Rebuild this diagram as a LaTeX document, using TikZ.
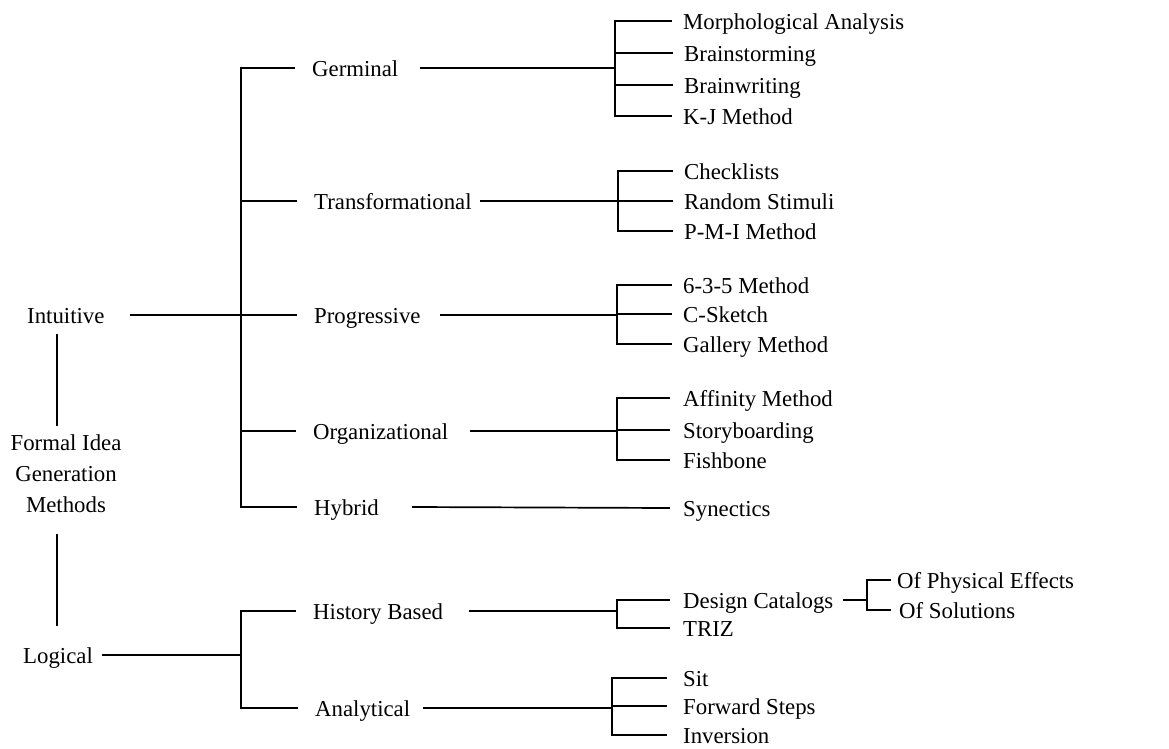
\documentclass[tikz,border=0pt]{standalone}
\usepackage{fontspec}
\setmainfont{Liberation Serif}
\begin{document}
\begin{tikzpicture}[x=1pt,y=-1pt,
  lbl/.style={anchor=west, inner sep=0pt, font=\fontsize{22.8}{31}\selectfont,
              text height=20pt, text depth=2.6pt},
  blk/.style={anchor=center, inner sep=0pt, align=center,
              font=\fontsize{22.8}{31}\selectfont},
  link/.style={line width=1.7pt, line cap=rect}]
\useasboundingbox (0,0) rectangle (1169,749);

% ---------- root and first level ----------
\node[lbl] (int) at (27,315) {Intuitive};
\node[blk] (fig) at (66,474) {Formal Idea\\Generation\\Methods};
\node[lbl] (log) at (23,655) {Logical};

% ---------- second level ----------
\node[lbl] (germ)  at (312,68)  {Germinal};
\node[lbl] (trans) at (314,201) {Transformational};
\node[lbl] (prog)  at (314,315) {Progressive};
\node[lbl] (org)   at (313,431) {Organizational};
\node[lbl] (hyb)   at (314,507) {Hybrid};
\node[lbl] (hist)  at (313,611) {History Based};
\node[lbl] (ana)   at (315,708) {Analytical};

% ---------- third level ----------
\node[lbl] (morph) at (683,21)  {Morphological Analysis};
\node[lbl] (brs)   at (684,53)  {Brainstorming};
\node[lbl] (brw)   at (684,85)  {Brainwriting};
\node[lbl] (kj)    at (683,116) {K-J Method};

\node[lbl] (chk)   at (684,171) {Checklists};
\node[lbl] (rnd)   at (684,201) {Random Stimuli};
\node[lbl] (pmi)   at (684,231) {P-M-I Method};

\node[lbl] (m635)  at (683,285) {6-3-5 Method};
\node[lbl] (csk)   at (683,314) {C-Sketch};
\node[lbl] (gal)   at (683,344) {Gallery Method};

\node[lbl] (aff)   at (683,398) {Affinity Method};
\node[lbl] (sto)   at (683,430) {Storyboarding};
\node[lbl] (fish)  at (683,460) {Fishbone};

\node[lbl] (syn)   at (683,508) {Synectics};

\node[lbl] (dc)    at (683,600) {Design Catalogs};
\node[lbl] (triz)  at (683,628) {TRIZ};

\node[lbl] (sit)   at (683,678) {Sit};
\node[lbl] (fwd)   at (683,706) {Forward Steps};
\node[lbl] (inv)   at (683,735) {Inversion};

% ---------- fourth level ----------
\node[lbl] (ope)   at (897,580) {Of Physical Effects};
\node[lbl] (osol)  at (899,610) {Of Solutions};

% ---------- bus and fork positions ----------
\coordinate (ax)  at (57,0);
\coordinate (bus) at (241,0);
\coordinate (fG)  at (615,0);
\coordinate (fT)  at (618,0);
\coordinate (fP)  at (617,0);
\coordinate (fO)  at (617,0);
\coordinate (fH)  at (617,0);
\coordinate (fA)  at (612,0);
\coordinate (fD)  at (867,0);

% ---------- root stems ----------
\draw[link] ([yshift=-8pt]int.south -| ax) -- ([yshift=10pt]fig.north -| ax);
\draw[link] ([yshift=-22pt]fig.south -| ax) -- ([yshift=18pt]log.north -| ax);

% ---------- intuitive branch ----------
\draw[link] ([xshift=26pt]int.east) -- (int.east -| bus);
\draw[link] (germ.west -| bus) -- (hyb.west -| bus);
\foreach \n in {germ,trans,prog,org,hyb}
  \draw[link] (\n.west -| bus) -- ([xshift=-18pt]\n.west);

% ---------- logical branch ----------
\draw[link] ([xshift=10pt]log.east) -- (log.east -| bus);
\draw[link] (hist.west -| bus) -- (ana.west -| bus);
\foreach \n in {hist,ana}
  \draw[link] (\n.west -| bus) -- ([xshift=-18pt]\n.west);

% ---------- germinal ----------
\draw[link] ([xshift=22pt]germ.east) -- (germ.east -| fG);
\draw[link] (morph.west -| fG) -- (kj.west -| fG);
\foreach \n in {morph,brs,brw,kj}
  \draw[link] (\n.west -| fG) -- ([xshift=-12pt]\n.west);

% ---------- transformational ----------
\draw[link] ([xshift=9pt]trans.east) -- (trans.east -| fT);
\draw[link] (chk.west -| fT) -- (pmi.west -| fT);
\foreach \n in {chk,rnd,pmi}
  \draw[link] (\n.west -| fT) -- ([xshift=-12pt]\n.west);

% ---------- progressive ----------
\draw[link] ([xshift=20pt]prog.east) -- (prog.east -| fP);
\draw[link] (m635.west -| fP) -- (gal.west -| fP);
\foreach \n in {m635,csk,gal}
  \draw[link] (\n.west -| fP) -- ([xshift=-12pt]\n.west);

% ---------- organizational ----------
\draw[link] ([xshift=22pt]org.east) -- (org.east -| fO);
\draw[link] (aff.west -| fO) -- (fish.west -| fO);
\foreach \n in {aff,sto,fish}
  \draw[link] (\n.west -| fO) -- ([xshift=-14pt]\n.west);

% ---------- hybrid ----------
\draw[link] ([xshift=34pt]hyb.east) -- ([xshift=-14pt]syn.west);

% ---------- history based ----------
\draw[link] ([xshift=27pt]hist.east) -- (hist.east -| fH);
\draw[link] (dc.west -| fH) -- (triz.west -| fH);
\foreach \n in {dc,triz}
  \draw[link] (\n.west -| fH) -- ([xshift=-14pt]\n.west);

% ---------- design catalogs ----------
\draw[link] ([xshift=10pt]dc.east) -- (dc.east -| fD);
\draw[link] (ope.west -| fD) -- (osol.west -| fD);
\draw[link] (ope.west -| fD) -- ([xshift=-7pt]ope.west);
\draw[link] (osol.west -| fD) -- ([xshift=-9pt]osol.west);

% ---------- analytical ----------
\draw[link] ([xshift=13pt]ana.east) -- (ana.east -| fA);
\draw[link] (sit.west -| fA) -- (inv.west -| fA);
\foreach \n in {sit,fwd,inv}
  \draw[link] (\n.west -| fA) -- ([xshift=-17pt]\n.west);
\end{tikzpicture}
\end{document}
